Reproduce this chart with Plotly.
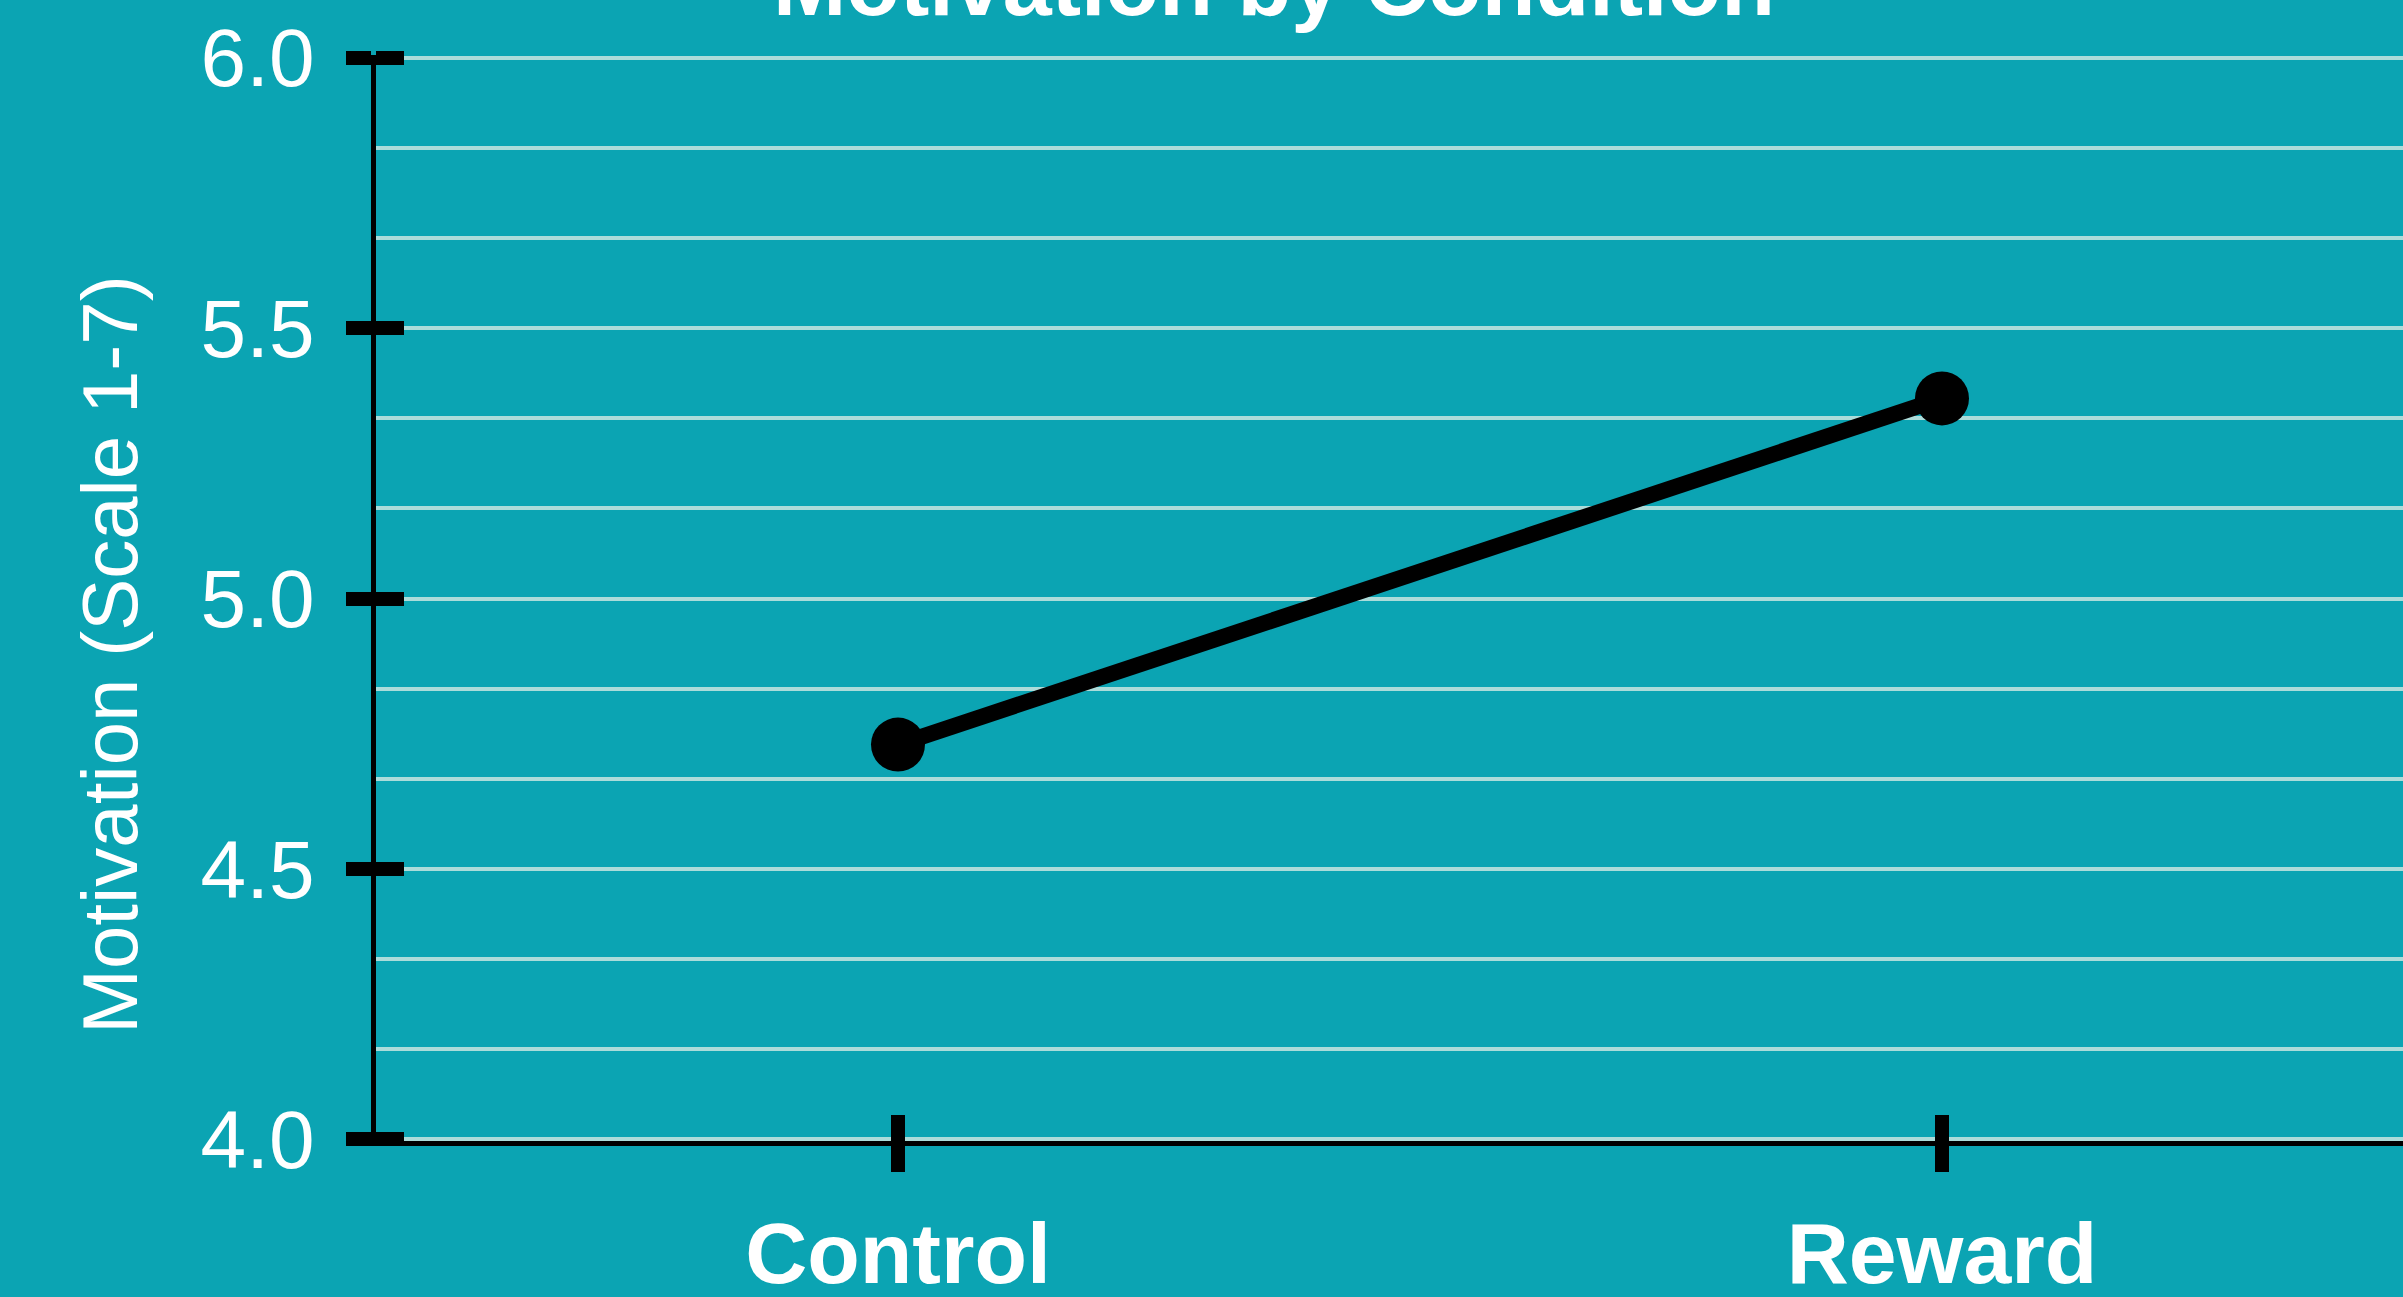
import plotly.graph_objects as go

# Mean motivation per condition
conditions = ["Control", "Reward"]
motivation = [4.73, 5.37]

# Y-axis ticks
y_tick_vals = [4.0, 4.5, 5.0, 5.5, 6.0]
y_tick_text = ["4.0", "4.5", "5.0", "5.5", "6.0"]

TITLE = "Motivation by Condition"
Y_TITLE = "Motivation (Scale 1-7)"

W, H = 2403, 1297
L, R, T, B = 376, 0, 55, 156
PW, PH = W - L - R, H - T - B

BG = "rgb(11,164,179)"
GRID = "rgb(172,220,218)"
FONT = "Liberation Sans, Arial, sans-serif"

x_range = [-0.5, 1.4416]
# small pad so the gridline and tick marks at 6.0 / 4.0 are kept
y_range = [3.997, 6.005]


def px_x(p):
    return (p - L) / PW


def px_y(p):
    return (H - B - p) / PH


fig = go.Figure()
fig.add_trace(go.Scatter(
    x=conditions, y=motivation, mode="lines+markers",
    line=dict(color="black", width=16),
    marker=dict(color="black", size=54),
    showlegend=False, hoverinfo="x+y", cliponaxis=False,
))
# Invisible copy on the overlay axes that carry the inward tick marks
fig.add_trace(go.Scatter(
    x=conditions, y=motivation, xaxis="x2", yaxis="y2",
    mode="markers", marker=dict(opacity=0), showlegend=False, hoverinfo="skip",
))

fig.update_layout(
    width=W, height=H,
    margin=dict(l=L, r=R, t=T, b=B, pad=0, autoexpand=False),
    paper_bgcolor=BG, plot_bgcolor=BG,
    xaxis=dict(
        type="category", categoryorder="array", categoryarray=conditions,
        range=x_range, showgrid=False, zeroline=False, automargin=False,
        showline=True, linecolor="black", linewidth=5,
        ticks="outside", ticklen=26, tickwidth=14, tickcolor="black",
        tickfont=dict(family=FONT, size=86, color="white", weight="bold"),
        ticklabelstandoff=8,
    ),
    yaxis=dict(
        range=y_range, tickmode="array", tickvals=y_tick_vals, ticktext=y_tick_text,
        showgrid=True, gridcolor=GRID, gridwidth=4, zeroline=False, automargin=False,
        showline=True, linecolor="black", linewidth=5,
        ticks="outside", ticklen=25, tickwidth=14, tickcolor="black",
        tickfont=dict(family=FONT, size=82, color="white"),
        ticklabelstandoff=15,
        minor=dict(tick0=4.0, dtick=1/6, showgrid=True, gridcolor=GRID, gridwidth=4, ticks=""),
    ),
    xaxis2=dict(
        type="category", categoryorder="array", categoryarray=conditions,
        overlaying="x", anchor="y", side="bottom", range=x_range, automargin=False,
        showgrid=False, zeroline=False, showline=False, showticklabels=False,
        ticks="inside", ticklen=26, tickwidth=14, tickcolor="black",
    ),
    yaxis2=dict(
        overlaying="y", anchor="x", side="left", range=y_range, automargin=False,
        tickmode="array", tickvals=y_tick_vals,
        showgrid=False, zeroline=False, showline=False, showticklabels=False,
        ticks="inside", ticklen=28, tickwidth=14, tickcolor="black",
    ),
    annotations=[
        dict(text=TITLE, xref="paper", yref="paper",
             x=px_x(1274), y=px_y(36), xanchor="center", yanchor="bottom",
             showarrow=False, font=dict(family=FONT, size=88, color="white", weight="bold")),
        dict(text=Y_TITLE, xref="paper", yref="paper", textangle=-90,
             x=px_x(110), y=px_y(655), xanchor="center", yanchor="middle",
             showarrow=False, font=dict(family=FONT, size=78, color="white")),
    ],
)

fig.write_html("out.html")
